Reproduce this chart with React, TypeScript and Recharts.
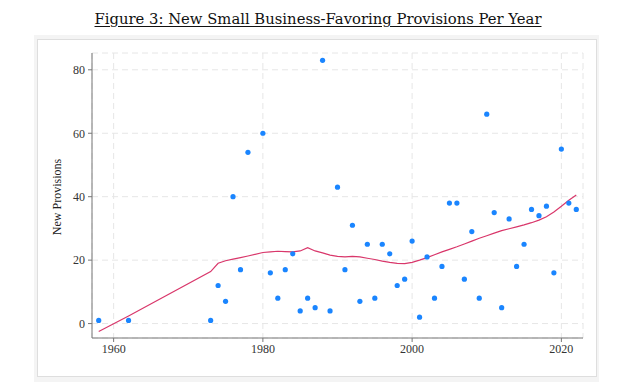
import React from 'react';
import { ComposedChart, Scatter, Line, XAxis, YAxis, CartesianGrid, Label } from 'recharts';

// Years with at least one new provision (lowess fit evaluated at the same years)
const years = [
  1958, 1962, 1973, 1974, 1975, 1976, 1977, 1978, 1980, 1981, 1982, 1983, 1984, 1985, 1986, 1987,
  1988, 1989, 1990, 1991, 1992, 1993, 1994, 1995, 1996, 1997, 1998, 1999, 2000, 2001, 2002, 2003,
  2004, 2005, 2006, 2007, 2008, 2009, 2010, 2011, 2012, 2013, 2014, 2015, 2016, 2017, 2018, 2019,
  2020, 2021, 2022,
];

const provisions = [
  1, 1, 1, 12, 7, 40, 17, 54, 60, 16, 8, 17, 22, 4, 8, 5,
  83, 4, 43, 17, 31, 7, 25, 8, 25, 22, 12, 14, 26, 2, 21, 8,
  18, 38, 38, 14, 29, 8, 66, 35, 5, 33, 18, 25, 36, 34, 37, 16,
  55, 38, 36,
];

const fit = [
  -2.5, 2.4, 16.4, 19.0, 19.8, 20.3, 20.8, 21.3, 22.4, 22.6, 22.8, 22.7, 22.6, 22.9, 23.9, 22.9,
  22.3, 21.6, 21.2, 21.0, 21.2, 21.0, 20.6, 20.2, 19.7, 19.3, 19.0, 18.9, 19.3, 20.0, 20.8, 21.7,
  22.6, 23.4, 24.2, 25.1, 26.0, 26.9, 27.7, 28.5, 29.3, 29.9, 30.5, 31.1, 31.8, 32.6, 33.7, 35.2,
  37.0, 38.9, 40.5,
];

const xTicks = [1960, 1980, 2000, 2020];
const yTicks = [0, 20, 40, 60, 80];

const rows = years.map((year, i) => ({ year, provisions: provisions[i], fit: fit[i] }));

const SERIF = '"Liberation Serif", "DejaVu Serif", serif';
const DOT = '#1a85ff';
const FIT = '#d9376b';

const Dot = (props: any) => <circle cx={props.cx} cy={props.cy} r={2.6} fill={DOT} />;

export default function App() {
  return (
    <div style={{ position: 'absolute', left: 0, top: 0, width: 636, height: 390, background: '#fff', fontFamily: SERIF }}>
      <div
        style={{
          position: 'absolute',
          top: 10,
          left: 0,
          width: 636,
          textAlign: 'center',
          fontFamily: '"DejaVu Serif", serif',
          fontSize: 14.8,
          textDecoration: 'underline',
          textUnderlineOffset: 2,
          color: '#111',
        }}
      >
        Figure 3: New Small Business-Favoring Provisions Per Year
      </div>
      <div style={{ position: 'absolute', left: 34, top: 35, width: 565, height: 347, background: '#f4f4f4' }} />
      <div style={{ position: 'absolute', left: 37, top: 39, width: 558, height: 336, background: '#fff', border: '1px solid #dedede' }} />
      <div style={{ position: 'absolute', left: 0, top: 0 }}>
        <ComposedChart width={636} height={390} data={rows} margin={{ top: 53, right: 53, bottom: 22, left: 0 }}>
          <CartesianGrid stroke="#e6e6e6" strokeDasharray="6 4" />
          <XAxis
            type="number"
            dataKey="year"
            domain={[1957.1, 2022.9]}
            ticks={xTicks}
            allowDataOverflow
            height={30}
            tickSize={4}
            tickMargin={2}
            stroke="#777"
            tick={{ fontFamily: SERIF, fontSize: 12, fill: '#333' }}
          />
          <YAxis
            type="number"
            domain={[-4.55, 85.3]}
            ticks={yTicks}
            allowDataOverflow
            width={92}
            tickSize={4}
            tickMargin={3}
            stroke="#777"
            tick={{ fontFamily: SERIF, fontSize: 12, fill: '#333' }}
          >
            <Label
              content={() => (
                <text
                  x={58}
                  y={197}
                  transform="rotate(-90 58 197)"
                  textAnchor="middle"
                  dominantBaseline="middle"
                  fontFamily={SERIF}
                  fontSize={12}
                  fill="#222"
                >
                  New Provisions
                </text>
              )}
            />
          </YAxis>
          <Line type="linear" dataKey="fit" stroke={FIT} strokeWidth={1.2} dot={false} isAnimationActive={false} />
          <Scatter dataKey="provisions" shape={Dot} isAnimationActive={false} />
        </ComposedChart>
      </div>
    </div>
  );
}
